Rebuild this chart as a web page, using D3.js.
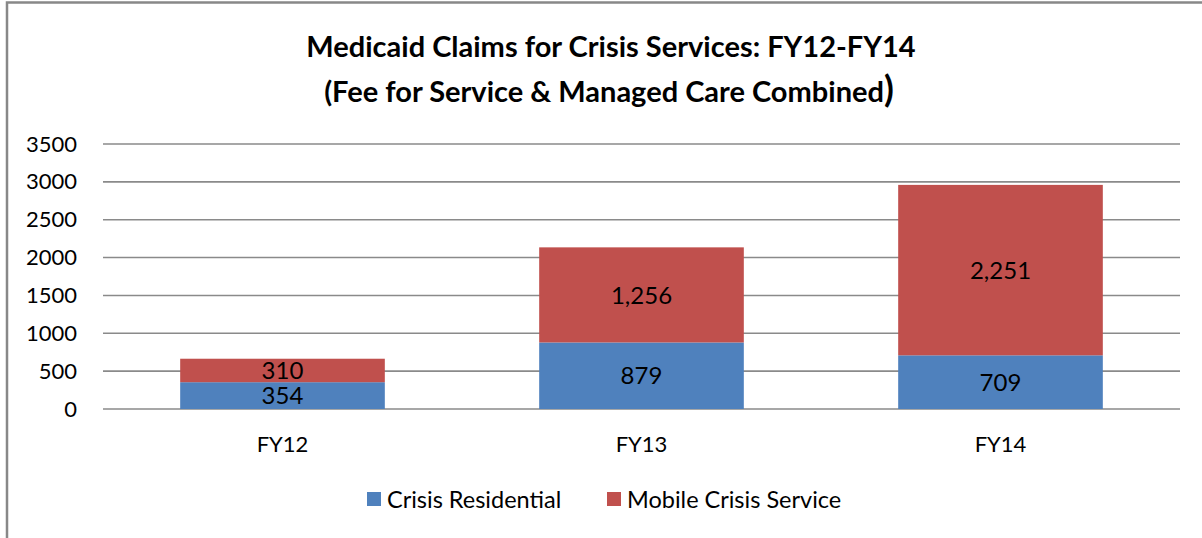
<!DOCTYPE html>
<html><head><meta charset="utf-8">
<script src="https://cdn.jsdelivr.net/npm/d3@7"></script>
<style>body{margin:0;background:#fff}svg{display:block}</style>
</head><body>
<script>
const categories = ["FY12", "FY13", "FY14"];
const crisisResidential = [354, 879, 709];
const mobileCrisis = [310, 1256, 2251];
const seriesNames = ["Crisis Residential", "Mobile Crisis Service"];
const colors = ["#4F81BD", "#C0504D"];
const yTicks = [0, 500, 1000, 1500, 2000, 2500, 3000, 3500];
const titleLine1 = "Medicaid Claims for Crisis Services: FY12-FY14";
const titleLine2 = "(Fee for Service & Managed Care Combined";
const titleClose = ")";

const W = 1202, H = 538;
const font = "Lato, 'Open Sans', sans-serif";
const svg = d3.select("body").append("svg").attr("width", W).attr("height", H);
svg.append("rect").attr("x", 7).attr("y", 2.5).attr("width", W + 10).attr("height", H + 10)
  .attr("fill", "#fff").attr("stroke", "#888").attr("stroke-width", 2.5);

const x = d3.scaleBand().domain(categories).range([103, 1180]).paddingInner(0.43).paddingOuter(0.215);
const y = d3.scaleLinear().domain([0, 3500]).range([409, 144]);

const g = svg.append("g");
g.selectAll("line.grid").data(yTicks).join("line")
  .attr("x1", 103).attr("x2", 1180).attr("y1", d => y(d)).attr("y2", d => y(d))
  .attr("stroke", "#8a8a8a").attr("stroke-width", 1.6);

const yAxis = d3.axisLeft(y).tickValues(yTicks).tickSize(0).tickPadding(0).tickFormat(d3.format("d"));
const ya = svg.append("g").attr("transform", "translate(77,0)").call(yAxis);
ya.select(".domain").remove();
ya.selectAll("text").attr("font-family", font).attr("font-size", 22).attr("fill", "#000");

const stackData = categories.map((c, i) => ({cat: c, a: crisisResidential[i], b: mobileCrisis[i]}));
const stack = d3.stack().keys(["a", "b"])(stackData);
stack.forEach((s, k) => {
  svg.append("g").selectAll("rect").data(s).join("rect")
    .attr("x", d => x(d.data.cat)).attr("width", x.bandwidth())
    .attr("y", d => y(d[1])).attr("height", d => y(d[0]) - y(d[1]))
    .attr("fill", colors[k]);
  svg.append("g").selectAll("text").data(s).join("text")
    .attr("x", d => x(d.data.cat) + x.bandwidth() / 2)
    .attr("y", d => (y(d[0]) + y(d[1])) / 2)
    .attr("dy", "0.36em").attr("text-anchor", "middle")
    .attr("font-family", font).attr("font-size", 24).attr("fill", "#000")
    .text(d => d3.format(",")(d[1] - d[0]));
});

const xAxis = d3.axisBottom(x).tickSize(0).tickPadding(0);
const xa = svg.append("g").attr("transform", "translate(0,436)").call(xAxis);
xa.select(".domain").remove();
xa.selectAll("text").attr("font-family", font).attr("font-size", 22).attr("fill", "#000");

svg.append("text").attr("x", 611).attr("y", 57).attr("text-anchor", "middle")
  .attr("font-family", font).attr("font-weight", "bold").attr("font-size", 29).text(titleLine1);
const t2 = svg.append("text").attr("x", 609).attr("y", 102).attr("text-anchor", "middle")
  .attr("font-family", font).attr("font-weight", "bold").attr("font-size", 29);
t2.append("tspan").text(titleLine2);
t2.append("tspan").attr("font-size", 36).text(titleClose);

const legendX = [367, 607];
seriesNames.forEach((n, i) => {
  svg.append("rect").attr("x", legendX[i]).attr("y", 492).attr("width", 14).attr("height", 14).attr("fill", colors[i]);
  svg.append("text").attr("x", legendX[i] + 20).attr("y", 508).attr("font-family", font)
    .attr("font-size", 23.5).attr("fill", "#000").text(n);
});
</script>
</body></html>
